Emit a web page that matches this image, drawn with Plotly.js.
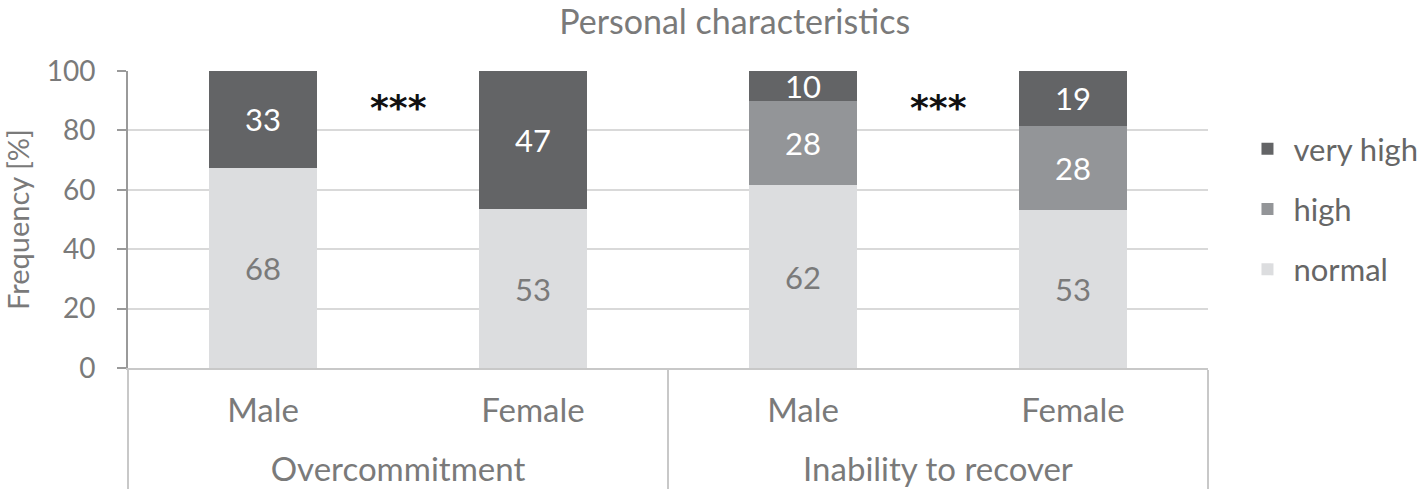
<!DOCTYPE html>
<html>
<head>
<meta charset="utf-8">
<script src="https://cdn.plot.ly/plotly-3.0.1.min.js"></script>
<style>
  body { margin: 0; background: #fff; }
  #grafica { width: 1421px; height: 496px; }
</style>
</head>
<body>
<div id="grafica"></div>
<script>
// categorías (eje multicategoría); <br> + <sup> bajan un poco la fila de grupos
const grupos = ['Overcommitment', 'Overcommitment', 'Inability to recover', 'Inability to recover'];
const sexos = ['Male', 'Female', 'Male', 'Female'];
const gruposEje = grupos.map(g => '<br><sup><span style="font-size:33px">' + g + '</span></sup>');

// valores [%]
const normal = [67.5, 53.5, 61.6, 53.2];
const high = [null, null, 28.3, 28.3];
const veryHigh = [32.5, 46.5, 10.1, 18.5];

// etiquetas mostradas dentro de las barras
const txtNormal = ['68', '53', '62', '53'];
const txtHigh = [null, null, '28', '28'];
const txtVeryHigh = ['33', '47', '10', '19'];

const yTicks = [0, 20, 40, 60, 80, 100];
const gris = '#7a7a7a';
const fuente = 'Lato, "Open Sans", sans-serif';

function serie(nombre, datos, textos, color, colorTexto, rango) {
    return {
        type: 'bar',
        name: nombre,
        legendgroup: nombre,
        legendrank: rango,
        x: [gruposEje, sexos],
        y: datos,
        text: textos,
        textposition: 'inside',
        insidetextanchor: 'middle',
        constraintext: 'none',
        textangle: 0,
        textfont: { family: fuente, size: 31, color: colorTexto },
        marker: { color: color, line: { width: 0 } },
        hoverinfo: 'y+name'
    };
}

const traces = [
    serie('normal', normal, txtNormal, '#dcdddf', gris, 3),
    serie('high', high, txtHigh, '#939598', '#ffffff', 2),
    serie('very high', veryHigh, txtVeryHigh, '#636466', '#ffffff', 1)
];

// asteriscos de significancia entre las barras de cada grupo
const estrellas = [0.25, 0.75].map(px => ({
    text: '<b>***</b>', xref: 'paper', yref: 'y', x: px, y: 87.6,
    xanchor: 'center', yanchor: 'middle', showarrow: false,
    font: { family: 'DejaVu Sans', size: 36, color: '#111111' }
}));

const layout = {
    width: 1421,
    height: 496,
    barmode: 'stack',
    bargap: 0.6,
    margin: { t: 71, b: 128, l: 128, r: 213, autoexpand: false },
    paper_bgcolor: '#ffffff',
    plot_bgcolor: '#ffffff',
    font: { family: fuente, color: gris, size: 28 },
    title: {
        text: 'Personal characteristics',
        font: { family: fuente, size: 34, color: gris },
        x: 0.517,
        xanchor: 'center',
        y: 0.956,
        yanchor: 'middle'
    },
    xaxis: {
        type: 'multicategory',
        showline: true,
        linecolor: '#c8c8c8',
        linewidth: 2,
        showdividers: true,
        dividercolor: '#c8c8c8',
        dividerwidth: 2,
        ticks: '',
        ticklabelstandoff: 12,
        tickfont: { family: fuente, size: 33, color: gris }
    },
    yaxis: {
        range: [0, 100],
        tickvals: yTicks,
        showline: true,
        linecolor: '#9a9a9a',
        linewidth: 2,
        ticks: 'outside',
        ticklen: 9,
        tickwidth: 2,
        tickcolor: '#9a9a9a',
        ticklabelstandoff: 16,
        gridcolor: '#d9d9d9',
        gridwidth: 2,
        zeroline: false,
        tickfont: { family: fuente, size: 28, color: gris },
        title: { text: 'Frequency [%]', font: { family: fuente, size: 29, color: gris }, standoff: 10 }
    },
    legend: {
        traceorder: 'grouped',
        x: 1.031,
        xanchor: 'left',
        y: 0.828,
        yanchor: 'top',
        itemwidth: 42,
        tracegroupgap: 17,
        font: { family: fuente, size: 31, color: '#666666' }
    },
    annotations: estrellas
};

Plotly.newPlot('grafica', traces, layout, { displayModeBar: false });
</script>
</body>
</html>
